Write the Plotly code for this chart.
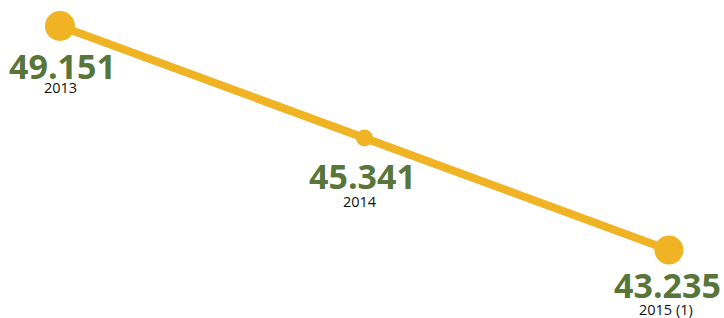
import plotly.graph_objects as go

years = ["2013", "2014", "2015 (1)"]
values = [49.151, 45.341, 43.235]
value_labels = ["49.151", "45.341", "43.235"]
marker_sizes = [30, 17, 29]

LINE = "#F0B323"
GREEN = "#58763A"

order = sorted(value_labels, key=float)
y_idx = [order.index(v) for v in value_labels]
x_idx = list(range(len(years)))
xshifts = [3, -2, -1]
val_yshift = [-40, -38, -35]
year_yshift = [-62, -63, -59]

fig = go.Figure()
fig.add_trace(go.Scatter(
    x=years, y=value_labels, mode="lines+markers",
    line=dict(color=LINE, width=8),
    marker=dict(color=LINE, size=marker_sizes, opacity=1, line=dict(width=0)),
    hoverinfo="skip", showlegend=False,
))

for xi, yi, yr, lab, xs, vy, yy in zip(x_idx, y_idx, years, value_labels,
                                       xshifts, val_yshift, year_yshift):
    fig.add_annotation(x=xi, y=yi, text="<b>%s</b>" % lab, showarrow=False,
                       yshift=vy, xshift=xs, yanchor="middle", xanchor="center",
                       font=dict(family="Open Sans", size=34, color=GREEN))
    fig.add_annotation(x=xi, y=yi, text=yr, showarrow=False,
                       yshift=yy, xshift=xs - 2, yanchor="middle", xanchor="center",
                       font=dict(family="Open Sans", size=14.5, color="#111111"))

fig.update_layout(
    width=724, height=318,
    margin=dict(l=0, r=0, t=0, b=0),
    paper_bgcolor="white", plot_bgcolor="white",
    xaxis=dict(type="category", categoryarray=years, range=[-0.197, 2.181],
               visible=False, fixedrange=True),
    yaxis=dict(type="category", categoryorder="array", categoryarray=order,
               range=[-0.607, 2.232], visible=False, fixedrange=True),
)

fig.write_html("out.html", config={"displayModeBar": False},
               post_script="document.body.style.margin='0';")
